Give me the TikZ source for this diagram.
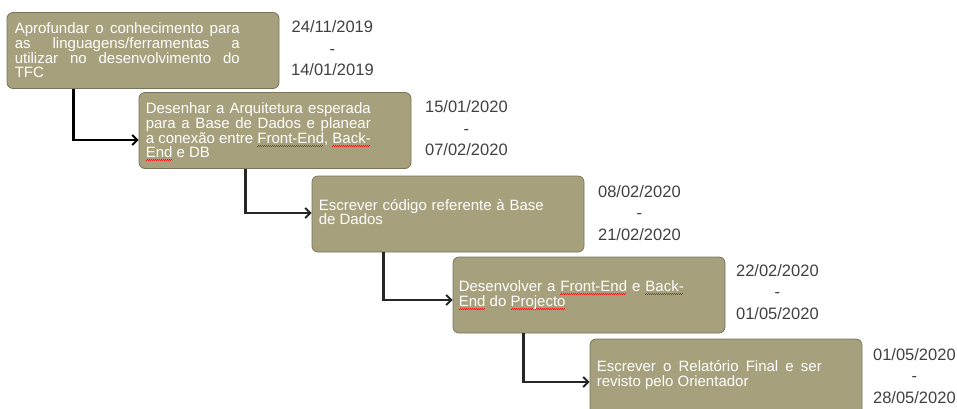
\documentclass[tikz,border=0pt]{standalone}
\usepackage{fontspec}
\setmainfont{Liberation Sans}
\usetikzlibrary{arrows.meta}

\definecolor{taskfill}{RGB}{166,160,124}
\definecolor{taskedge}{RGB}{120,116,92}
\definecolor{dategray}{RGB}{64,64,64}
\definecolor{spellred}{RGB}{230,20,20}

% red wavy mark under words
\newsavebox\spellbox
\newcommand\wavebit{\hbox{\rule{1pt}{0.8pt}\raisebox{0.9pt}{\rule{1pt}{0.8pt}}}}
\newcommand\spellerr[1]{\sbox\spellbox{#1}\leavevmode
    \rlap{\raisebox{-3.2pt}[0pt][0pt]{\hbox to\wd\spellbox{\color{spellred}\leaders\wavebit\hfill}}}%
    \usebox\spellbox}

\begin{document}
\begin{tikzpicture}[x=1pt, y=-1pt,
    taskbox/.style={draw=taskedge, line width=0.8pt, fill=taskfill, rounded corners=6pt,
                    minimum width=272pt, minimum height=76pt},
    tasktext/.style={anchor=west, text=white, text width=225pt, align=justify, inner sep=0pt,
                     font=\fontsize{15}{14.6}\selectfont},
    datebox/.style={text=dategray, align=center, inner sep=0pt,
                    font=\fontsize{16.5}{21.5}\selectfont},
    conn/.style={draw=black!85, line width=2.8pt, -{Straight Barb[length=5pt, width=10pt, line width=2pt]}}
]
    \useasboundingbox (0,0) rectangle (957,408);
    \clip (0,0) rectangle (957,408);

    % Tasks
    \node[taskbox] (b1) at (143,50.5) {};
    \node[taskbox] (b2) at (275,130.5) {};
    \node[taskbox] (b3) at (448,214) {};
    \node[taskbox] (b4) at (589,295) {};
    \node[taskbox] (b5) at (726,377) {};

    \node[tasktext] (t1) at ([xshift=8pt]b1.west) {Aprofundar o conhecimento para\linebreak
        as linguagens/ferramentas a\linebreak utilizar no desenvolvimento do\linebreak TFC};
    \node[tasktext] (t2) at ([xshift=7pt]b2.west) {Desenhar a Arquitetura esperada\linebreak
        para a Base de Dados e planear\linebreak a conexão entre \spellerr{Front-End}, \spellerr{Back-}\linebreak
        \spellerr{End} e DB};
    \node[tasktext] (t3) at ([xshift=7pt, yshift=2pt]b3.west) {Escrever código referente à Base\linebreak de Dados};
    \node[tasktext] (t4) at ([xshift=6pt]b4.west) {Desenvolver a \spellerr{Front-End} e \spellerr{Back-}\linebreak
        \spellerr{End} do \spellerr{Projecto}};
    \node[tasktext] (t5) at ([xshift=7pt, yshift=2pt]b5.west) {Escrever o Relatório Final e ser\linebreak
        revisto pelo Orientador};

    % Dates
    \node[datebox] (d1) at ([xshift=53pt, yshift=2pt]b1.east) {24/11/2019\\-\\14/01/2019};
    \node[datebox] (d2) at ([xshift=55pt, yshift=2pt]b2.east) {15/01/2020\\-\\07/02/2020};
    \node[datebox] (d3) at ([xshift=55pt, yshift=1pt]b3.east) {08/02/2020\\-\\21/02/2020};
    \node[datebox] (d4) at ([xshift=52pt, yshift=3pt]b4.east) {22/02/2020\\-\\01/05/2020};
    \node[datebox] (d5) at ([xshift=52pt, yshift=1pt]b5.east) {01/05/2020\\-\\28/05/2020};

    % Connectors
    \draw[conn, draw=black] ([xshift=67pt]b1.south west) |- ([yshift=-9.5pt]b2.west);
    \draw[conn] ([xshift=107pt]b2.south west) |- ([yshift=1pt]b3.west);
    \draw[conn] ([xshift=72pt]b3.south west) |- ([yshift=-5pt]b4.west);
    \draw[conn] ([xshift=71pt]b4.south west) |- ([yshift=-5pt]b5.west);
\end{tikzpicture}
\end{document}
